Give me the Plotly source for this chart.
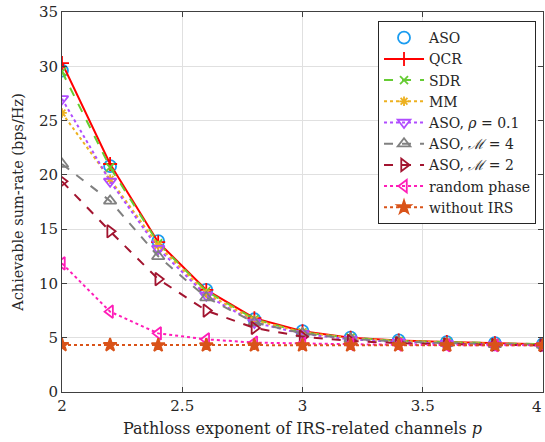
import plotly.graph_objects as go

x_p = [2.0, 2.2, 2.4, 2.6, 2.8, 3.0, 3.2, 3.4, 3.6, 3.8, 4.0]

aso      = [29.6, 20.8, 13.9, 9.4, 6.7, 5.6, 5.0, 4.75, 4.6, 4.5, 4.4]
qcr      = [30.3, 21.0, 13.8, 9.4, 6.8, 5.6, 5.0, 4.75, 4.6, 4.5, 4.4]
sdr      = [29.5, 20.7, 13.7, 9.3, 6.7, 5.5, 5.0, 4.7, 4.6, 4.5, 4.4]
mm       = [25.7, 19.6, 13.5, 9.1, 6.6, 5.5, 4.95, 4.7, 4.55, 4.45, 4.35]
aso_rho  = [27.0, 19.4, 13.2, 8.9, 6.4, 5.35, 4.85, 4.6, 4.45, 4.35, 4.3]
aso_m4   = [21.0, 17.6, 12.5, 8.7, 6.4, 5.4, 4.9, 4.65, 4.5, 4.4, 4.35]
aso_m2   = [19.4, 14.8, 10.4, 7.5, 5.9, 5.1, 4.7, 4.5, 4.4, 4.35, 4.3]
rand_ph  = [11.85, 7.4, 5.4, 4.85, 4.55, 4.45, 4.4, 4.35, 4.3, 4.3, 4.3]
no_irs   = [4.33, 4.33, 4.3, 4.3, 4.3, 4.3, 4.3, 4.3, 4.3, 4.3, 4.3]

x_ticks = [2, 2.5, 3, 3.5]
x_tick_labels = ["2", "2.5", "3", "3.5"]
y_ticks = [0, 5, 10, 15, 20, 25, 30, 35]

series = [
    ("ASO", aso, "#1A9CF0", None, "circle-open", 12, "markers"),
    ("QCR", qcr, "#FF0000", "solid", "cross-thin-open", 10, "lines+markers"),
    ("SDR", sdr, "#66CC33", "dash", "x-thin-open", 8, "lines+markers"),
    ("MM", mm, "#EDB120", "dot", "asterisk-open", 8, "lines+markers"),
    ("ASO, <i>ρ</i> = 0.1", aso_rho, "#B04CFF", "dot", "triangle-down-open", 11, "lines+markers"),
    ("ASO, <i>ℳ</i> = 4", aso_m4, "#808080", "dash", "triangle-up-open", 11, "lines+markers"),
    ("ASO, <i>ℳ</i> = 2", aso_m2, "#A2142F", "dash", "triangle-right-open", 11, "lines+markers"),
    ("random phase", rand_ph, "#FF1DB8", "dot", "triangle-left-open", 11, "lines+markers"),
    ("without IRS", no_irs, "#D95319", "dot", "star", 10, "lines+markers"),
]

fig = go.Figure()
for name, ys, col, dash, sym, size, mode in series:
    kw = dict(x=x_p, y=ys, name=name, mode=mode,
              marker=dict(symbol=sym, size=size, color=col,
                          line=dict(color=col, width=1.8)))
    if dash is not None:
        kw["line"] = dict(color=col, width=2, dash=dash)
    fig.add_trace(go.Scatter(**kw))

font_family = "DejaVu Serif"
fig.update_layout(
    width=545, height=442,
    margin=dict(l=62, r=2, t=12, b=50),
    paper_bgcolor="white", plot_bgcolor="white",
    font=dict(family=font_family, size=15, color="#262626"),
    showlegend=True,
    legend=dict(x=0.657, y=0.976, xanchor="left", yanchor="top",
                bgcolor="white", bordercolor="#262626", borderwidth=1,
                font=dict(family=font_family, size=14, color="#262626"),
                tracegroupgap=0, itemwidth=40),
    xaxis=dict(range=[2, 4], tickmode="array", tickvals=x_ticks, ticktext=x_tick_labels,
               showgrid=True, gridcolor="#E0E0E0", gridwidth=1,
               showline=True, linecolor="#404040", linewidth=1, mirror="ticks",
               ticks="inside", ticklen=5, tickcolor="#404040",
               zeroline=False,
               title=dict(text="Pathloss exponent of IRS-related channels <i>p</i>",
                          font=dict(size=16, family=font_family), standoff=8)),
    yaxis=dict(range=[0, 35], tickmode="array", tickvals=y_ticks,
               showgrid=True, gridcolor="#E0E0E0", gridwidth=1,
               showline=True, linecolor="#404040", linewidth=1, mirror="ticks",
               ticks="inside", ticklen=5, tickcolor="#404040",
               zeroline=False,
               title=dict(text="Achievable sum-rate (bps/Hz)",
                          font=dict(size=14.5, family=font_family), standoff=11)),
    annotations=[dict(x=4, y=0, xref="x", yref="paper", text="4", showarrow=False,
                      xanchor="right", yanchor="top", yshift=-4, xshift=1,
                      font=dict(size=15, family=font_family, color="#262626"))],
)

fig.write_html("out.html")
